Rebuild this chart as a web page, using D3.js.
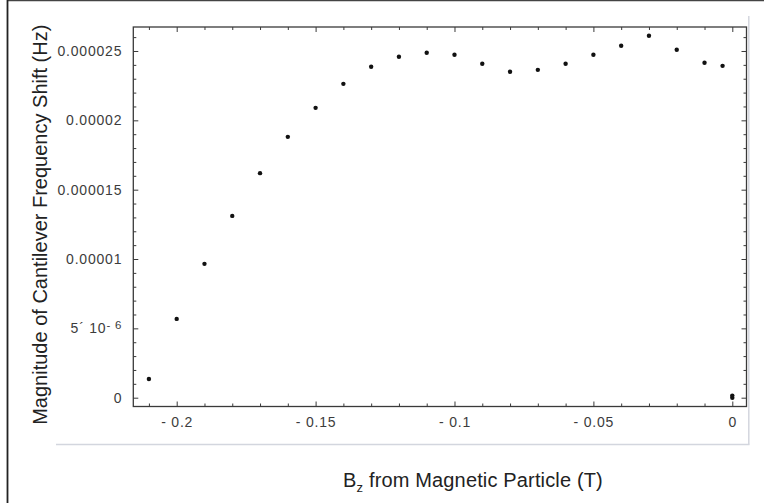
<!DOCTYPE html>
<html>
<head>
<meta charset="utf-8">
<script src="https://cdn.jsdelivr.net/npm/d3@7"></script>
<style>
  html, body { margin: 0; padding: 0; background: #fff; }
  svg { display: block; }
</style>
</head>
<body>
<svg id="chart" width="764" height="503"></svg>
<script>
// ---- data ----
const bzValues = [-0.21, -0.20, -0.19, -0.18, -0.17, -0.16, -0.15, -0.14, -0.13, -0.12, -0.11,
                  -0.10, -0.09, -0.08, -0.07, -0.06, -0.05, -0.04, -0.03, -0.02, -0.01, -0.0035, 0, 0];
const shiftValues = [1.35e-6, 5.68e-6, 9.65e-6, 13.11e-6, 16.19e-6, 18.81e-6, 20.9e-6, 22.63e-6, 23.86e-6,
                     24.58e-6, 24.87e-6, 24.73e-6, 24.08e-6, 23.5e-6, 23.64e-6, 24.08e-6, 24.73e-6,
                     25.38e-6, 26.1e-6, 25.09e-6, 24.15e-6, 23.93e-6, 0, 0.15e-6];
const xMajorTicks = [-0.2, -0.15, -0.1, -0.05, 0];
const xTickLabels = ["- 0.2", "- 0.15", "- 0.1", "- 0.05", "0"];
const xMinorTicks = [-0.21, -0.19, -0.18, -0.17, -0.16, -0.14, -0.13, -0.12, -0.11,
                     -0.09, -0.08, -0.07, -0.06, -0.04, -0.03, -0.02, -0.01];
const yMajorTicks = [0, 5e-6, 1e-5, 1.5e-5, 2e-5, 2.5e-5];
const yTickLabels = ["0", "5\u00B4 10|- 6", "0.00001", "0.000015", "0.00002", "0.000025"];
const yMinorTicks = [1e-6, 2e-6, 3e-6, 4e-6, 6e-6, 7e-6, 8e-6, 9e-6, 11e-6, 12e-6, 13e-6, 14e-6,
                     16e-6, 17e-6, 18e-6, 19e-6, 21e-6, 22e-6, 23e-6, 24e-6, 26e-6];
const xTitle = ["B", "z", " from Magnetic Particle (T)"];
const yTitle = "Magnitude of Cantilever Frequency Shift (Hz)";

// ---- layout ----
const svg = d3.select("#chart");
const pL = 133.3, pR = 746.5, pT = 27, pB = 406.5;
const x = d3.scaleLinear().domain([-0.21562, 0.00511]).range([pL, pR]);
const y = d3.scaleLinear().domain([-6.35e-7, 2.673e-5]).range([pB, pT]);
const frameColor = "#3a3a3a";
const font = "Liberation Sans, Arial, sans-serif";

// outer border (top and left)
svg.append("line").attr("x1", 7).attr("x2", 764).attr("y1", 0.5).attr("y2", 0.5)
  .attr("stroke", "#444").attr("stroke-width", 1.5);
svg.append("line").attr("x1", 7.5).attr("x2", 7.5).attr("y1", 0).attr("y2", 503)
  .attr("stroke", "#222").attr("stroke-width", 1.8);

// light grey box edges (right and bottom)
svg.append("line").attr("x1", 748.8).attr("x2", 748.8).attr("y1", 16).attr("y2", 444.5)
  .attr("stroke", "#d3d6de").attr("stroke-width", 1.5);
svg.append("line").attr("x1", 56).attr("x2", 749.5).attr("y1", 444.5).attr("y2", 444.5)
  .attr("stroke", "#d3d6de").attr("stroke-width", 1.5);

// frame
svg.append("rect").attr("x", pL).attr("y", pT).attr("width", pR - pL).attr("height", pB - pT)
  .attr("fill", "none").attr("stroke", frameColor).attr("stroke-width", 1.3);

function styleAxis(g) {
  g.select(".domain").remove();
  g.selectAll(".tick line").attr("stroke", frameColor).attr("stroke-width", 1);
}

// bottom axis major with labels
const gxb = svg.append("g").attr("transform", `translate(0,${pB})`)
  .call(d3.axisBottom(x).tickValues(xMajorTicks).tickSize(-5).tickPadding(11)
    .tickFormat((d, i) => xTickLabels[i]));
styleAxis(gxb);
gxb.selectAll("text").attr("font-family", font).attr("font-size", 14)
  .attr("letter-spacing", "0.8px").attr("fill", "#3c3c3c");
svg.append("g").attr("transform", `translate(0,${pB})`)
  .call(d3.axisBottom(x).tickValues(xMinorTicks).tickSize(-3).tickFormat(""))
  .call(styleAxis);
// top axis
svg.append("g").attr("transform", `translate(0,${pT})`)
  .call(d3.axisTop(x).tickValues(xMajorTicks).tickSize(-5).tickFormat("")).call(styleAxis);
svg.append("g").attr("transform", `translate(0,${pT})`)
  .call(d3.axisTop(x).tickValues(xMinorTicks).tickSize(-3).tickFormat("")).call(styleAxis);

// left axis major with labels
const gyl = svg.append("g").attr("transform", `translate(${pL},0)`)
  .call(d3.axisLeft(y).tickValues(yMajorTicks).tickSize(-5).tickPadding(11)
    .tickFormat((d, i) => yTickLabels[i]));
styleAxis(gyl);
gyl.selectAll("text").attr("font-family", font).attr("font-size", 14)
  .attr("letter-spacing", "0.8px").attr("fill", "#3c3c3c")
  .each(function(d, i) {
    const lab = yTickLabels[i];
    if (lab.indexOf("|") >= 0) {
      const parts = lab.split("|");
      const t = d3.select(this).text(null);
      t.append("tspan").text(parts[0]);
      t.append("tspan").attr("dy", "-0.4em").attr("font-size", 11.5).text(parts[1]);
    }
  });
svg.append("g").attr("transform", `translate(${pL},0)`)
  .call(d3.axisLeft(y).tickValues(yMinorTicks).tickSize(-3).tickFormat("")).call(styleAxis);
// right axis
svg.append("g").attr("transform", `translate(${pR},0)`)
  .call(d3.axisRight(y).tickValues(yMajorTicks).tickSize(-5).tickFormat("")).call(styleAxis);
svg.append("g").attr("transform", `translate(${pR},0)`)
  .call(d3.axisRight(y).tickValues(yMinorTicks).tickSize(-3).tickFormat("")).call(styleAxis);

// points
svg.append("g").selectAll("circle").data(bzValues.map((b, i) => [b, shiftValues[i]]))
  .join("circle")
  .attr("cx", d => x(d[0])).attr("cy", d => y(d[1])).attr("r", 2.2).attr("fill", "#111");

// axis titles
const xt = svg.append("text").attr("x", 473).attr("y", 487).attr("text-anchor", "middle")
  .attr("font-family", font).attr("font-size", 20).attr("letter-spacing", "0.15px").attr("fill", "#222");
xt.append("tspan").text(xTitle[0]);
xt.append("tspan").attr("dy", 5).attr("font-size", 13).text(xTitle[1]);
xt.append("tspan").attr("dy", -5).text(xTitle[2]);

svg.append("text").attr("transform", `translate(47,224.7) rotate(-90)`)
  .attr("text-anchor", "middle")
  .attr("font-family", font).attr("font-size", 20).attr("fill", "#222")
  .text(yTitle);
</script>
</body>
</html>
